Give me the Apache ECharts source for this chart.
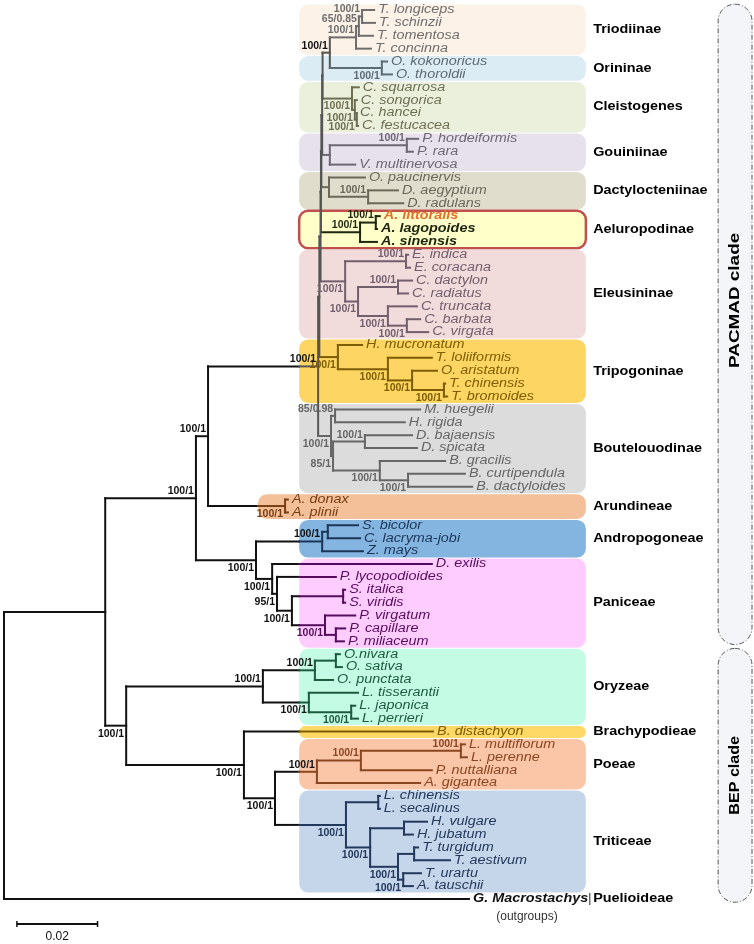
<!DOCTYPE html>
<html>
<head>
<meta charset="utf-8">
<script src="https://cdn.jsdelivr.net/npm/echarts@6/dist/echarts.min.js"></script>
<style>
  html, body { margin: 0; padding: 0; background: #fff; }
  #main { width: 754px; height: 944px; }
</style>
</head>
<body>
<div id="main"></div>
<script>
// leaves, top to bottom
const leafNames = [
  'T. longiceps', 'T. schinzii', 'T. tomentosa', 'T. concinna',
  'O. kokonoricus', 'O. thoroldii',
  'C. squarrosa', 'C. songorica', 'C. hancei', 'C. festucacea',
  'P. hordeiformis', 'P. rara', 'V. multinervosa',
  'O. paucinervis', 'D. aegyptium', 'D. radulans',
  'A. littoralis', 'A. lagopoides', 'A. sinensis',
  'E. indica', 'E. coracana', 'C. dactylon', 'C. radiatus', 'C. truncata', 'C. barbata', 'C. virgata',
  'H. mucronatum', 'T. loliiformis', 'O. aristatum', 'T. chinensis', 'T. bromoides',
  'M. huegelii', 'H. rigida', 'D. bajaensis', 'D. spicata', 'B. gracilis', 'B. curtipendula', 'B. dactyloides',
  'A. donax', 'A. plinii',
  'S. bicolor', 'C. lacryma-jobi', 'Z. mays',
  'D. exilis', 'P. lycopodioides', 'S. italica', 'S. viridis', 'P. virgatum', 'P. capillare', 'P. miliaceum',
  'O.nivara', 'O. sativa', 'O. punctata', 'L. tisserantii', 'L. japonica', 'L. perrieri',
  'B. distachyon',
  'L. multiflorum', 'L. perenne', 'P. nuttalliana', 'A. gigantea',
  'L. chinensis', 'L. secalinus', 'H. vulgare', 'H. jubatum', 'T. turgidum', 'T. aestivum', 'T. urartu', 'A. tauschii',
  'G. Macrostachys'
];

// distance of each tip from the root (substitutions/site)
const leafDepth = [
  0.0918, 0.0920, 0.0915, 0.0910,
  0.0950, 0.0962,
  0.0880, 0.0875, 0.0873, 0.0878,
  0.1027, 0.1014, 0.0871,
  0.0895, 0.0977, 0.0990,
  0.0932, 0.0925, 0.0925,
  0.1002, 0.1007, 0.1012, 0.1002, 0.1024, 0.1032, 0.1052,
  0.0888, 0.1061, 0.1074, 0.1094, 0.1099,
  0.1032, 0.0994, 0.1012, 0.1024, 0.1094, 0.1143, 0.1161,
  0.0704, 0.0704,
  0.0878, 0.0883, 0.0890,
  0.1061, 0.0823, 0.0846, 0.0846, 0.0871, 0.0846, 0.0843,
  0.0833, 0.0838, 0.0816, 0.0878, 0.0871, 0.0878,
  0.1064,
  0.1143, 0.1148, 0.1061, 0.1032,
  0.0932, 0.0932, 0.1049, 0.1014, 0.1027, 0.1106, 0.1034, 0.1014,
  0.1153
];

// internal nodes: [id, depth, child A, child B, support]
const nodes = [
  ['tLS', 0.0888, 0, 1, '100/1'],
  ['tLST', 0.0880, 'tLS', 2, '65/0.85'],
  ['tTri', 0.0873, 'tLST', 3, '100/1'],
  ['nOri', 0.0937, 4, 5, '100/1'],
  ['nTO', 0.0808, 'tTri', 'nOri', '100/1'],
  ['c3', 0.0875, 8, 9, '100/1'],
  ['c2', 0.0870, 7, 'c3', '100/1'],
  ['c1', 0.0863, 6, 'c2', '100/1'],
  ['gP', 0.0999, 10, 11, '100/1'],
  ['gCr', 0.0808, 'gP', 12, ''],
  ['dD', 0.0903, 14, 15, '100/1'],
  ['dCr', 0.0806, 13, 'dD', ''],
  ['aLL', 0.0922, 16, 17, '100/1'],
  ['aCr', 0.0883, 'aLL', 18, '100/1'],
  ['eE', 0.0997, 19, 20, '100/1'],
  ['eDR', 0.0977, 21, 22, '100/1'],
  ['eBV', 0.0999, 24, 25, '100/1'],
  ['eTBV', 0.0952, 23, 'eBV', '100/1'],
  ['eCyn', 0.0878, 'eDR', 'eTBV', '100/1'],
  ['eCr', 0.0846, 'eE', 'eCyn', '100/1'],
  ['pCB', 0.1091, 29, 30, '100/1'],
  ['pACB', 0.1012, 28, 'pCB', '100/1'],
  ['pLACB', 0.0952, 27, 'pACB', '100/1'],
  ['pCr', 0.0828, 26, 'pLACB', '100/1'],
  ['bHR', 0.0821, 31, 32, '85/0.98'],
  ['bBS', 0.0895, 33, 34, '100/1'],
  ['bCD', 0.1002, 36, 37, '100/1'],
  ['bGCD', 0.0932, 35, 'bCD', '100/1'],
  ['bB2', 0.0816, 'bBS', 'bGCD', '85/1'],
  ['bCr', 0.0811, 'bHR', 'bB2', '100/1'],
  ['k1', 0.0790, 'nTO', 'c1', ''],
  ['k2', 0.0789, 'k1', 'gCr', ''],
  ['k3', 0.0787, 'k2', 'dCr', ''],
  ['k4', 0.0786, 'k3', 'aCr', ''],
  ['k5', 0.0785, 'k4', 'eCr', ''],
  ['k6', 0.0782, 'k5', 'pCr', ''],
  ['kChl', 0.0779, 'k6', 'bCr', '100/1'],
  ['rA', 0.0697, 38, 39, '100/1'],
  ['nCA', 0.0506, 'kChl', 'rA', '100/1'],
  ['nSC', 0.0803, 40, 41, ''],
  ['nAnd', 0.0789, 'nSC', 42, '100/1'],
  ['pnIV', 0.0841, 45, 46, ''],
  ['pnCM', 0.0823, 48, 49, ''],
  ['pnV', 0.0796, 47, 'pnCM', '100/1'],
  ['pnSP', 0.0714, 'pnIV', 'pnV', '100/1'],
  ['pnPP', 0.0677, 44, 'pnSP', '95/1'],
  ['pnCr', 0.0665, 43, 'pnPP', '100/1'],
  ['nAP', 0.0625, 'nAnd', 'pnCr', '100/1'],
  ['nPAC', 0.0476, 'nCA', 'nAP', '100/1'],
  ['oNS', 0.0823, 50, 51, ''],
  ['oOry', 0.0771, 'oNS', 52, '100/1'],
  ['oJP', 0.0861, 54, 55, '100/1'],
  ['oLee', 0.0756, 53, 'oJP', '100/1'],
  ['oCr', 0.0642, 'oOry', 'oLee', '100/1'],
  ['qLol', 0.1133, 57, 58, '100/1'],
  ['qLP', 0.0885, 'qLol', 59, '100/1'],
  ['qCr', 0.0776, 'qLP', 60, '100/1'],
  ['wCS', 0.0928, 61, 62, ''],
  ['wH', 0.0992, 63, 64, ''],
  ['wTA', 0.1017, 65, 66, ''],
  ['wUT', 0.0990, 67, 68, '100/1'],
  ['wT', 0.0977, 'wTA', 'wUT', '100/1'],
  ['wHT', 0.0908, 'wH', 'wT', '100/1'],
  ['wCr', 0.0848, 'wCS', 'wHT', '100/1'],
  ['nPT', 0.0672, 'qCr', 'wCr', '100/1'],
  ['nBPT', 0.0595, 56, 'nPT', '100/1'],
  ['nBEP', 0.0303, 'oCr', 'nBPT', '100/1'],
  ['nPoa', 0.0251, 'nPAC', 'nBEP', ''],
  ['root', 0, 'nPoa', 69, '']
];

// nodes whose support value is written under the branch
const supportBelow = ['nOri', 'c1', 'c2', 'c3', 'eBV', 'eTBV', 'eCyn', 'eCr', 'pCB', 'pACB', 'pLACB', 'pCr',
  'bCD', 'bGCD', 'bB2', 'bCr', 'rA', 'pnV', 'pnSP', 'pnPP', 'pnCr', 'nAP', 'oJP', 'oLee',
  'wUT', 'wT', 'wHT', 'wCr', 'nPT', 'nBPT', 'nBEP'];

// shaded groups: [name, first leaf, last leaf]
const clades = [
  ['Triodiinae', 0, 3], ['Orininae', 4, 5], ['Cleistogenes', 6, 9], ['Gouiniinae', 10, 12],
  ['Dactylocteniinae', 13, 15], ['Aeluropodinae', 16, 18], ['Eleusininae', 19, 25],
  ['Tripogoninae', 26, 30], ['Boutelouodinae', 31, 37], ['Arundineae', 38, 39],
  ['Andropogoneae', 40, 42], ['Paniceae', 43, 49], ['Oryzeae', 50, 55], ['Brachypodieae', 56, 56],
  ['Poeae', 57, 60], ['Triticeae', 61, 68]
];
const cladeFill = ['#fdf2e8', '#dcecf5', '#ebf0dd', '#e6e1ed', '#e0ddcc', '#ffffc9', '#f2dcdb', '#fdd562',
  '#dcdcdc', '#f4c09a', '#84b5e0', '#ffccff', '#c4fbe5', '#ffd966', '#fbc6a8', '#c6d6ea'];
const cladeInk = ['#6e6e6e', '#5e6b75', '#6e6e52', '#6d6873', '#6b675a', '#1c2610', '#725f6e', '#7d5d00',
  '#666666', '#7a3e12', '#1c3658', '#560c5e', '#1c5a3e', '#7d5d00', '#8a4621', '#22385c'];

const bigClades = [['PACMAD clade', 0, 49], ['BEP clade', 50, 69]];
const outgroupName = 'Puelioideae';
const scaleBar = 0.02;

// ---- layout constants (axis units) ----
const BOX_LEFT = 0.0732;
const BOX_LEFT_WIDE = 0.0630; // Arundineae box starts further left
const BOX_RIGHT = 0.1443;
const LABEL_X = 0.1461;
const BR_X0 = 0.1771, BR_X1 = 0.1855;
const BLACK = '#111111', GRAY = '#555555';

const leafClade = leafNames.map((n, i) => clades.findIndex(c => i >= c[1] && i <= c[2]));
const boxStart = c => (clades[c][0] === 'Arundineae' ? BOX_LEFT_WIDE : BOX_LEFT);

// ---- build tree geometry ----
const nodeById = {};
nodes.forEach(n => { nodeById[n[0]] = n; });
const pos = {};
function place(ref) {
  if (typeof ref === 'number') return { x: leafDepth[ref], y: ref, clade: leafClade[ref], leaf: true };
  if (pos[ref]) return pos[ref];
  const n = nodeById[ref];
  const a = place(n[2]), b = place(n[3]);
  pos[ref] = { id: ref, x: n[1], y: (a.y + b.y) / 2, clade: a.clade === b.clade ? a.clade : -1, a, b, sup: n[4] };
  return pos[ref];
}
place('root');

const segs = [];
function addH(x1, x2, y, clade) {
  const left = clade >= 0 ? boxStart(clade) : BOX_LEFT;
  const ink = clade >= 0 ? cladeInk[clade] : GRAY;
  if (x1 < left && x2 > left) {
    segs.push([x1, y, left, y, BLACK]);
    segs.push([left, y, x2, y, ink]);
  } else {
    segs.push([x1, y, x2, y, x1 >= left ? ink : BLACK]);
  }
}
const supports = [];
Object.keys(pos).forEach(id => {
  const p = pos[id];
  let vcol = BLACK;
  if (p.clade >= 0 && p.x >= boxStart(p.clade)) vcol = cladeInk[p.clade];
  else if (p.clade < 0 && p.x >= BOX_LEFT) vcol = GRAY;
  segs.push([p.x, p.a.y, p.x, p.b.y, vcol]);
  [p.a, p.b].forEach(k => {
    if (k.leaf && k.clade < 0) segs.push([p.x, k.y, k.x, k.y, BLACK]);
    else addH(p.x, k.x, k.y, k.clade);
  });
  if (p.sup) {
    let col = BLACK;
    if (p.clade >= 0 && p.x - 0.006 >= boxStart(p.clade)) col = cladeInk[p.clade];
    supports.push({ x: p.x, y: p.y, text: p.sup, below: supportBelow.indexOf(id) >= 0, color: col });
  }
});

const FONT = '"Liberation Sans", Arial, sans-serif';

const option = {
  animation: false,
  backgroundColor: '#ffffff',
  grid: { left: 4, right: 4, top: 10, bottom: 45 },
  xAxis: { type: 'value', min: 0, max: 0.185, show: false },
  yAxis: { type: 'value', min: 0, max: leafNames.length - 1, inverse: true, show: false },
  series: [
    {
      // clade boxes
      type: 'custom', z: 1, silent: true,
      data: clades.map((c, i) => [boxStart(i), c[1], i]),
      renderItem: (params, api) => {
        const i = params.dataIndex, c = clades[i];
        const p1 = api.coord([boxStart(i), c[1] - 0.42]);
        const p2 = api.coord([BOX_RIGHT, c[2] + 0.5]);
        const aelu = c[0] === 'Aeluropodinae';
        const mid = api.coord([LABEL_X, (c[1] + c[2]) / 2 + 0.04]);
        return {
          type: 'group',
          children: [
            {
              type: 'rect',
              shape: { x: p1[0], y: p1[1], width: p2[0] - p1[0], height: p2[1] - p1[1], r: 9 },
              style: { fill: cladeFill[i], stroke: aelu ? '#c0504d' : null, lineWidth: aelu ? 2.5 : 0 }
            },
            {
              type: 'text', x: mid[0], y: mid[1], scaleX: 1.2,
              style: { text: c[0], fill: '#000', font: 'bold 12px ' + FONT, verticalAlign: 'middle', align: 'left' }
            }
          ]
        };
      }
    },
    {
      // PACMAD / BEP brackets
      type: 'custom', z: 1, silent: true,
      data: bigClades.map((b, i) => [BR_X0, b[1], i]),
      renderItem: (params, api) => {
        const b = bigClades[params.dataIndex];
        const p1 = api.coord([BR_X0, b[1] - 0.45]);
        const p2 = api.coord([BR_X1, b[2] + 0.25]);
        const w = p2[0] - p1[0];
        const first = params.dataIndex === 0;
        return {
          type: 'group',
          children: [
            {
              type: 'rect',
              shape: { x: p1[0], y: p1[1], width: w, height: p2[1] - p1[1], r: w / 2 },
              style: { fill: '#f4f5f9', stroke: '#555', lineWidth: 1, lineDash: [5, 2, 1, 2] }
            },
            {
              type: 'text', x: (p1[0] + p2[0]) / 2, y: (p1[1] + p2[1]) / 2 - (first ? 24 : 0),
              rotation: Math.PI / 2, scaleX: first ? 1.35 : 1.15,
              style: { text: b[0], fill: '#000', font: 'bold 14px ' + FONT, align: 'center', verticalAlign: 'middle' }
            }
          ]
        };
      }
    },
    {
      // branches
      type: 'custom', z: 2, silent: true,
      data: segs.map(s => [s[0], s[1], s[2], s[3]]),
      renderItem: (params, api) => {
        const s = segs[params.dataIndex];
        const p1 = api.coord([s[0], s[1]]), p2 = api.coord([s[2], s[3]]);
        return {
          type: 'line',
          shape: { x1: p1[0], y1: p1[1], x2: p2[0], y2: p2[1] },
          style: { stroke: s[4], lineWidth: 2, lineCap: 'square' }
        };
      }
    },
    {
      // tip names
      type: 'custom', z: 3, silent: true,
      data: leafNames.map((n, i) => [leafDepth[i], i]),
      renderItem: (params, api) => {
        const i = params.dataIndex;
        const p = api.coord([leafDepth[i], i]);
        const c = leafClade[i];
        let fill = c >= 0 ? cladeInk[c] : '#111';
        if (leafNames[i] === 'A. littoralis') fill = '#e4702f';
        const bold = (c >= 0 && clades[c][0] === 'Aeluropodinae') || c < 0;
        const kids = [{
          type: 'text', x: p[0] + 4, y: p[1], scaleX: 1.2,
          style: { text: leafNames[i], fill, font: 'italic ' + (bold ? 'bold ' : '') + '12px ' + FONT, verticalAlign: 'middle', align: 'left' }
        }];
        if (c < 0) {
          const lp = api.coord([LABEL_X, i]);
          kids.push({
            type: 'text', x: p[0] + 58, y: p[1] + 18,
            style: { text: '(outgroups)', fill: '#333', font: '12px ' + FONT, align: 'center', verticalAlign: 'middle' }
          });
          kids.push({
            type: 'text', x: lp[0] - 5, y: p[1],
            style: { text: '|', fill: '#222', font: '12px ' + FONT, align: 'left', verticalAlign: 'middle' }
          });
          kids.push({
            type: 'text', x: lp[0], y: p[1], scaleX: 1.2,
            style: { text: outgroupName, fill: '#000', font: 'bold 12px ' + FONT, align: 'left', verticalAlign: 'middle' }
          });
        }
        return { type: 'group', children: kids };
      }
    },
    {
      // bootstrap / posterior support
      type: 'custom', z: 4, silent: true,
      data: supports.map(s => [s.x, s.y]),
      renderItem: (params, api) => {
        const s = supports[params.dataIndex];
        const p = api.coord([s.x, s.y]);
        return {
          type: 'text', x: p[0] - 2, y: p[1] + (s.below ? 8 : -7),
          style: { text: s.text, fill: s.color, font: 'bold 10.5px ' + FONT, align: 'right', verticalAlign: 'middle' }
        };
      }
    },
    {
      // scale bar
      type: 'custom', z: 3, silent: true,
      data: [[0.0032, leafNames.length + 0.94]],
      renderItem: (params, api) => {
        const x0 = api.value(0), yv = api.value(1);
        const a = api.coord([x0, yv]), b = api.coord([x0 + scaleBar, yv]);
        return {
          type: 'group',
          children: [
            { type: 'line', shape: { x1: a[0], y1: a[1], x2: b[0], y2: b[1] }, style: { stroke: '#111', lineWidth: 2 } },
            { type: 'line', shape: { x1: a[0], y1: a[1] - 3, x2: a[0], y2: a[1] + 3 }, style: { stroke: '#111', lineWidth: 1.5 } },
            { type: 'line', shape: { x1: b[0], y1: b[1] - 3, x2: b[0], y2: b[1] + 3 }, style: { stroke: '#111', lineWidth: 1.5 } },
            {
              type: 'text', x: (a[0] + b[0]) / 2, y: a[1] + 13,
              style: { text: String(scaleBar), fill: '#111', font: '12px ' + FONT, align: 'center', verticalAlign: 'middle' }
            }
          ]
        };
      }
    }
  ]
};

const chart = echarts.init(document.getElementById('main'));
chart.setOption(option);
</script>
</body>
</html>
